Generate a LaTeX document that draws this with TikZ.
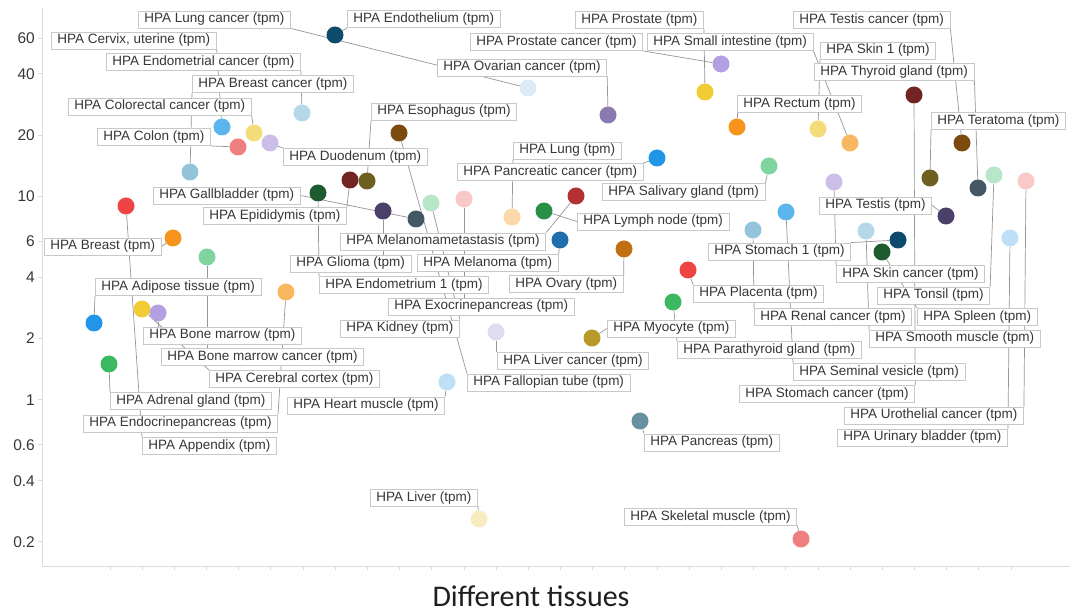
\documentclass[tikz,border=0pt]{standalone}
\usepackage{fontspec}
\setmainfont{Liberation Sans}
\newfontfamily\calibri{Carlito}
\usetikzlibrary{backgrounds}
\definecolor{navy}{RGB}{14,74,107}
\definecolor{frost}{RGB}{222,234,243}
\definecolor{plum}{RGB}{138,122,176}
\definecolor{lavender}{RGB}{178,160,226}
\definecolor{sun}{RGB}{242,204,52}
\definecolor{powder}{RGB}{181,216,232}
\definecolor{sky}{RGB}{92,182,238}
\definecolor{butter}{RGB}{245,220,122}
\definecolor{salmon}{RGB}{240,128,128}
\definecolor{lilac}{RGB}{203,190,232}
\definecolor{steel}{RGB}{147,196,219}
\definecolor{cocoa}{RGB}{122,74,14}
\definecolor{tangerine}{RGB}{247,148,29}
\definecolor{apricot}{RGB}{248,184,98}
\definecolor{maroon}{RGB}{114,36,36}
\definecolor{olivedot}{RGB}{110,96,32}
\definecolor{slate}{RGB}{67,88,100}
\definecolor{mint}{RGB}{184,230,200}
\definecolor{blush}{RGB}{249,200,200}
\definecolor{ice}{RGB}{189,224,246}
\definecolor{grape}{RGB}{75,64,105}
\definecolor{forest}{RGB}{30,92,48}
\definecolor{jade}{RGB}{128,212,160}
\definecolor{azure}{RGB}{33,150,232}
\definecolor{peach}{RGB}{252,217,168}
\definecolor{crimson}{RGB}{181,48,48}
\definecolor{emerald}{RGB}{42,144,72}
\definecolor{cobalt}{RGB}{31,111,176}
\definecolor{rust}{RGB}{192,112,16}
\definecolor{leafdot}{RGB}{60,184,96}
\definecolor{mustard}{RGB}{184,154,40}
\definecolor{mist}{RGB}{224,220,242}
\definecolor{tealdot}{RGB}{106,143,160}
\definecolor{cream}{RGB}{248,235,192}
\definecolor{scarlet}{RGB}{238,68,68}
\definecolor{boxgray}{RGB}{200,200,200}
\definecolor{leadgray}{RGB}{150,150,150}
\definecolor{axgray}{RGB}{220,220,220}
\definecolor{txtgray}{RGB}{55,55,55}
\tikzset{
  blob/.style={circle,fill=#1,draw=none,minimum size=17pt,inner sep=0pt},
  lbl/.style={draw=boxgray,fill=white,line width=0.9pt,anchor=west,text=txtgray,
    font=\fontsize{13.5}{15}\selectfont,inner xsep=6pt,inner ysep=2pt,
    text height=10pt,text depth=3pt},
  lead/.style={draw=leadgray,line width=0.7pt},
  axis/.style={draw=axgray,line width=0.9pt},
  ticklbl/.style={anchor=east,inner sep=0pt,text=txtgray,font=\fontsize{15.5}{17}\selectfont},
}

\begin{document}
\begin{tikzpicture}[x=1pt,y=-1pt]
  \useasboundingbox (0,0) rectangle (1072,612);
  % axes
  \draw[axis] (42,8) -- (42,566) -- (1070,566);
  \foreach \k in {0,...,28} \draw[axis] (110+32.18*\k,566) -- ++(0,4);
  \foreach \v in {60,40,20,10,6,4,2,1,0.6,0.4,0.2}{
    \pgfmathsetmacro{\yy}{399.8-203.5*log10(\v)}
    \draw[axis] (38,\yy) -- (42,\yy);
    \node[ticklbl] at (35,\yy) {\v};
  }
  % tissues
  \foreach \n/\px/\py/\c in {lungc/528/88/frost, endoth/335/35/navy, prost/705/92/sun,
    testc/962/143/cocoa, cervix/222/127/sky, prostc/721/64/lavender, smallint/850/143/apricot,
    skin1/818/129/butter, endomc/302/113/powder, ovarc/608/115/plum, thyroid/978/188/slate,
    breastc/190/172/steel, colorc/254/133/butter, esoph/367/181/olivedot, rectum/737/127/tangerine,
    terat/930/178/olivedot, colon/238/147/salmon, duoden/270/143/lilac, lung/512/217/peach,
    pancc/657/158/azure, saliv/769/166/jade, gallb/416/219/slate, epid/350/180/maroon,
    testis/946/216/grape, melmet/576/196/crimson, lymph/544/211/emerald, breast/173/238/tangerine,
    stom1/898/240/navy, glioma/383/211/grape, melan/560/240/cobalt, skinc/834/182/lilac,
    endom1/318/193/forest, ovary/624/249/rust, tonsil/994/175/mint, adipose/94/323/azure,
    placenta/688/270/scarlet, exocr/464/199/blush, renalc/753/230/steel, spleen/882/252/forest,
    kidney/431/203/mint, myocyte/592/338/mustard, smooth/866/231/powder, bonem/158/313/lavender,
    parath/673/302/leafdot, bonemc/207/257/jade, liverc/496/332/mist, seminal/786/212/sky,
    cerebral/142/309/sun, fallop/399/133/cocoa, stomc/914/95/maroon, adrenal/109/364/leafdot,
    heart/447/382/ice, uroth/1026/181/blush, endocr/286/292/apricot, pancreas/640/421/tealdot,
    urinary/1010/238/ice, appendix/126/206/scarlet, liver/479/519/cream, skeletal/801/539/salmon}
    \node[blob=\c] (\n-d) at (\px,\py) {};
  % labels
  \foreach \n/\px/\py/\t in {lungc/138/19.5/{HPA Lung cancer (tpm)},
    endoth/347/19/{HPA Endothelium (tpm)}, prost/575/20/{HPA Prostate (tpm)},
    testc/793/20/{HPA Testis cancer (tpm)}, cervix/51/40.5/{HPA Cervix, uterine (tpm)},
    prostc/470/42/{HPA Prostate cancer (tpm)}, smallint/647/42/{HPA Small intestine (tpm)},
    skin1/820/50.5/{HPA Skin 1 (tpm)}, endomc/106/62/{HPA Endometrial cancer (tpm)},
    ovarc/437/67.5/{HPA Ovarian cancer (tpm)}, thyroid/814/72/{HPA Thyroid gland (tpm)},
    breastc/192/84/{HPA Breast cancer (tpm)}, colorc/68/106.5/{HPA Colorectal cancer (tpm)},
    esoph/371/111.5/{HPA Esophagus (tpm)}, rectum/737/104/{HPA Rectum (tpm)},
    terat/931/121/{HPA Teratoma (tpm)}, colon/97/137/{HPA Colon (tpm)},
    duoden/283/157/{HPA Duodenum (tpm)}, lung/513/150.5/{HPA Lung (tpm)},
    pancc/457/172/{HPA Pancreatic cancer (tpm)}, saliv/602/192/{HPA Salivary gland (tpm)},
    gallb/153/195.5/{HPA Gallbladder (tpm)}, epid/203/216/{HPA Epididymis (tpm)},
    testis/819/205.5/{HPA Testis (tpm)}, melmet/340/241.5/{HPA Melanomametastasis (tpm)},
    lymph/577/221.5/{HPA Lymph node (tpm)}, breast/44/246.5/{HPA Breast (tpm)},
    stom1/708/251.5/{HPA Stomach 1 (tpm)}, glioma/290/263.5/{HPA Glioma (tpm)},
    melan/417/263/{HPA Melanoma (tpm)}, skinc/836/274/{HPA Skin cancer (tpm)},
    endom1/319/285/{HPA Endometrium 1 (tpm)}, ovary/509/284/{HPA Ovary (tpm)},
    tonsil/877/295.5/{HPA Tonsil (tpm)}, adipose/95/287/{HPA Adipose tissue (tpm)},
    placenta/693/293.5/{HPA Placenta (tpm)}, exocr/388/306.5/{HPA Exocrinepancreas (tpm)},
    renalc/754/317/{HPA Renal cancer (tpm)}, spleen/917/317/{HPA Spleen (tpm)},
    kidney/340/328.5/{HPA Kidney (tpm)}, myocyte/607/328.5/{HPA Myocyte (tpm)},
    smooth/869/338.5/{HPA Smooth muscle (tpm)}, bonem/143/335.5/{HPA Bone marrow (tpm)},
    parath/677/350/{HPA Parathyroid gland (tpm)}, bonemc/161/357/{HPA Bone marrow cancer (tpm)},
    liverc/497/361/{HPA Liver cancer (tpm)}, seminal/793/372/{HPA Seminal vesicle (tpm)},
    cerebral/209/379/{HPA Cerebral cortex (tpm)}, fallop/467/382.5/{HPA Fallopian tube (tpm)},
    stomc/739/394/{HPA Stomach cancer (tpm)}, adrenal/110/401/{HPA Adrenal gland (tpm)},
    heart/287/405.5/{HPA Heart muscle (tpm)}, uroth/844/415.5/{HPA Urothelial cancer (tpm)},
    endocr/83/423.5/{HPA Endocrinepancreas (tpm)}, pancreas/644/442.5/{HPA Pancreas (tpm)},
    urinary/837/437.5/{HPA Urinary bladder (tpm)}, appendix/142/446/{HPA Appendix (tpm)},
    liver/370/497.5/{HPA Liver (tpm)}, skeletal/624/516.5/{HPA Skeletal muscle (tpm)}}
    \node[lbl] (\n) at (\px,\py) {\t};
  % leader lines
  \begin{scope}[on background layer]
    \fill[white] (0,0) rectangle (1072,612);
    \foreach \a/\b in {lungc.south east/lungc, endoth.south west/endoth, prost.south east/prost,
      testc.south east/testc, cervix.south east/cervix, prostc.south east/prostc,
      smallint.south east/smallint, skin1.south west/skin1, endomc.south east/endomc,
      ovarc.south east/ovarc, thyroid.south east/thyroid, breastc.south west/breastc,
      colorc.south east/colorc, esoph.south west/esoph, rectum.south west/rectum,
      terat.south west/terat, colon.south east/colon, duoden.north west/duoden,
      lung.south west/lung, pancc.north east/pancc, saliv.north east/saliv, gallb.east/gallb,
      epid.north east/epid, testis.east/testis, melmet.north east/melmet, lymph.west/lymph,
      breast.east/breast, stom1.north east/stom1, melan.north east/melan,
      skinc.north west/skinc, endom1.north west/endom1, ovary.north east/ovary,
      tonsil.north east/tonsil, adipose.south west/adipose, placenta.north west/placenta,
      renalc.north west/renalc, spleen.north west/spleen, kidney.north east/kidney,
      myocyte.west/myocyte, smooth.north west/smooth, parath.north west/parath,
      seminal.north west/seminal, cerebral.north west/cerebral, fallop.north west/fallop,
      stomc.north east/stomc, adrenal.north west/adrenal, heart.north east/heart,
      uroth.north east/uroth, endocr.north east/endocr, pancreas.north west/pancreas,
      urinary.north east/urinary, appendix.north west/appendix, liver.south east/liver,
      skeletal.south east/skeletal}
      \draw[lead] (\a) -- (\b-d);
    \foreach \n in {glioma,exocr,bonem,bonemc,liverc}
      \draw[lead] (\n-d) -- (\n-d |- \n.north);
  \end{scope}
  \node[font=\calibri\fontsize{30}{34}\selectfont,text=black!88] (xtitle) at (531,596) {Different tissues};
\end{tikzpicture}
\end{document}
